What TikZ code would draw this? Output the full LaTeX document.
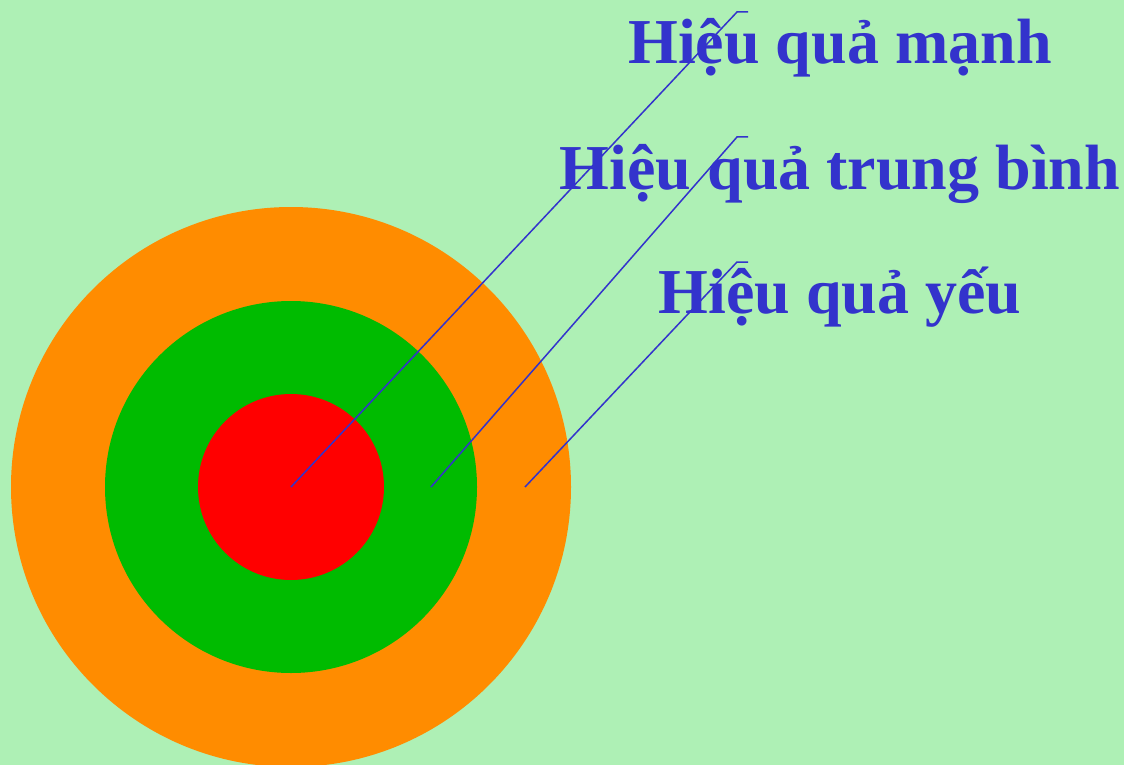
\documentclass[tikz,border=0pt]{standalone}
\usepackage{fontspec}
\setmainfont{Liberation Serif}
\definecolor{bg}{HTML}{AEF0B5}
\definecolor{ring1}{HTML}{FF8C00}
\definecolor{ring2}{HTML}{00BB00}
\definecolor{ring3}{HTML}{FF0000}
\definecolor{ink}{HTML}{3333CC}
\tikzset{ring/.style={circle,inner sep=0pt,minimum size=#1},lbl/.style={text=ink,anchor=base,inner sep=0pt,font=\fontsize{64}{72}\selectfont\bfseries},ln/.style={draw=ink,line width=1.5pt}}

\begin{document}
\begin{tikzpicture}[x=1pt,y=-1pt]
\fill[bg](0,0)rectangle(1124,765);\useasboundingbox(0,0)rectangle(1124,765);
\node[ring=560pt,fill=ring1](R1)at(291,487){};\node[ring=372pt,fill=ring2](R2)at(291,487){};\node[ring=186pt,fill=ring3](R3)at(291,487){};
\coordinate(P1)at(291,487);\coordinate(P2)at(431,487);\coordinate(P3)at(525,487);
\coordinate(K1)at(737,12);\coordinate(K2)at(737,137);\coordinate(K3)at(737,262);
\coordinate(E1)at(748,12);\coordinate(E2)at(748,137);\coordinate(E3)at(748,262);
\foreach\a in{1,2,3}\draw[ln](P\a)--(K\a)--(E\a);
\node[lbl](L1)at(840,64){Hiệu quả mạnh};\node[lbl](L2)at(840,189){Hiệu quả trung bình};\node[lbl](L3)at(840,313){Hiệu quả yếu};
\end{tikzpicture}
\end{document}
